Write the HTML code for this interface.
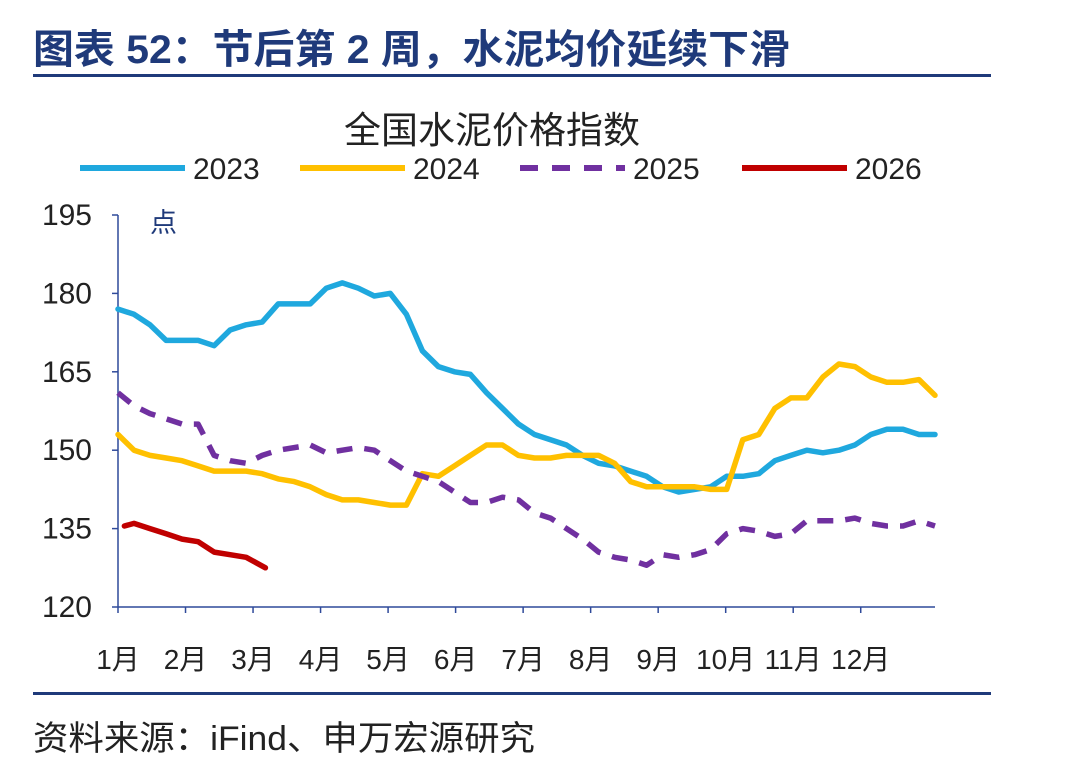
<!DOCTYPE html>
<html><head><meta charset="utf-8">
<style>
html,body{margin:0;padding:0;background:#fff;}
body{width:1080px;height:775px;overflow:hidden;font-family:"Liberation Sans","Noto Sans CJK SC",sans-serif;}
</style></head>
<body>
<svg id="chart" width="1080" height="775" xmlns="http://www.w3.org/2000/svg" font-family="'Liberation Sans','Noto Sans CJK SC',sans-serif">
<text x="33" y="63" font-size="40" font-weight="bold" fill="#1F3A7A" textLength="757" lengthAdjust="spacingAndGlyphs">图表 52：节后第 2 周，水泥均价延续下滑</text>
<rect x="33" y="74" width="958" height="3" fill="#1F3A7A"/>
<text x="492" y="143" font-size="37" text-anchor="middle" fill="#222">全国水泥价格指数</text>
<g id="legend"></g>
<g id="axes"></g>
<g id="series"></g>
<text x="150" y="232" font-size="27" fill="#1F3A7A">点</text>
<rect x="33" y="692" width="958" height="3" fill="#1F3A7A"/>
<text x="33" y="750" font-size="34" fill="#222" textLength="502" lengthAdjust="spacingAndGlyphs">资料来源：iFind、申万宏源研究</text>
</svg>
<script>
const yTicks=[120,135,150,165,180,195];
const months=["1月","2月","3月","4月","5月","6月","7月","8月","9月","10月","11月","12月"];
const seriesNames=["2023","2024","2025","2026"];
const weeks=[0,1,2,3,4,5,6,7,8,9,10,11,12,13,14,15,16,17,18,19,20,21,22,23,24,25,26,27,28,29,30,31,32,33,34,35,36,37,38,39,40,41,42,43,44,45,46,47,48,49,50,51];
const v2023=[177,176,174,171,171,171,170,173,174,174.5,178,178,178,181,182,181,179.5,180,176,169,166,165,164.5,161,158,155,153,152,151,149,147.5,147,146,145,143,142,142.5,143,145,145,145.5,148,149,150,149.5,150,151,153,154,154,153,153];
const v2024=[153,150,149,148.5,148,147,146,146,146,145.5,144.5,144,143,141.5,140.5,140.5,140,139.5,139.5,145.5,145,147,149,151,151,149,148.5,148.5,149,149,149,147.5,144,143,143,143,143,142.5,142.5,152,153,158,160,160,164,166.5,166,164,163,163,163.5,160.5];
const v2025=[161,158.5,157,156,155,155,149,148,147.5,149,150,150.5,151,149.5,150,150.5,150,148,146,145,144,142,140,140,141,140.5,138,137,135,133,130.5,129.5,129,128,130,129.5,130,131,134,135,134.5,133.5,134,136.5,136.5,136.5,137,136,135.5,135.5,136.5,135.5];
const weeks2026=[0.4,1,2,3,4,5,6,7,8,9.2];
const v2026=[135.5,136,135,134,133,132.5,130.5,130,129.5,127.5];
const colors=["#1FA8DE","#FFC000","#7030A0","#C00000"];
const NS="http://www.w3.org/2000/svg";
const X0=118,X1=935,Y0=607,Y1=215;
const xs=w=>X0+w*(X1-X0)/51;
const ys=v=>Y0-(v-120)*(Y0-Y1)/75;
function mk(tag,attrs,parent){const e=document.createElementNS(NS,tag);for(const k in attrs)e.setAttribute(k,attrs[k]);parent.appendChild(e);return e;}
const axes=document.getElementById('axes');
let ax=mk('line',{x1:X0,y1:Y1,x2:X0,y2:Y0,stroke:'#2F4A9A','stroke-width':1.5},axes);


let bx=mk('line',{x1:X0,y1:Y0,x2:X1,y2:Y0,stroke:'#2F4A9A','stroke-width':1.5},axes);


yTicks.forEach(t=>{
  let tk=mk('line',{x1:X0-6,y1:ys(t),x2:X0,y2:ys(t),stroke:'#2F4A9A','stroke-width':1.5},axes);
  
  
  let tx=mk('text',{x:X0-26,y:ys(t)+10,'font-size':30,'text-anchor':'end',fill:'#222'},axes);
  tx.textContent=t;
  
  
});
const mStep=(X1-X0)/12.1;
months.forEach((m,i)=>{
  const x=X0+i*mStep;
  let tk=mk('line',{x1:x,y1:Y0,x2:x,y2:Y0+6,stroke:'#2F4A9A','stroke-width':1.5},axes);
  
  
  let tx=mk('text',{x:x,y:669,'font-size':28,'text-anchor':'middle',fill:'#222'},axes);
  tx.textContent=m;
  
  
});
const sg=document.getElementById('series');
const all=[[weeks,v2023],[weeks,v2024],[weeks,v2025],[weeks2026,v2026]];
all.forEach((s,i)=>{
  const d=s[0].map((w,j)=>(j?'L':'M')+xs(w).toFixed(1)+','+ys(s[1][j]).toFixed(1)).join(' ');
  const a={d:d,fill:'none',stroke:colors[i],'stroke-width':5.5,'stroke-linejoin':'round','stroke-linecap':'round'};
  if(i==2){a['stroke-dasharray']='16 12';a['stroke-linecap']='butt';}
  let p=mk('path',a,sg);
  
  
});
const lg=document.getElementById('legend');
const lx=[80,300,520,742];
seriesNames.forEach((n,i)=>{
  const a={x1:lx[i],y1:168,x2:lx[i]+105,y2:168,stroke:colors[i],'stroke-width':6};
  if(i==2)a['stroke-dasharray']='18 14';
  let l=mk('line',a,lg);
  
  
  let t=mk('text',{x:lx[i]+113,y:179,'font-size':30,fill:'#222'},lg);
  t.textContent=n;
  
  
});
</script>
</body></html>
